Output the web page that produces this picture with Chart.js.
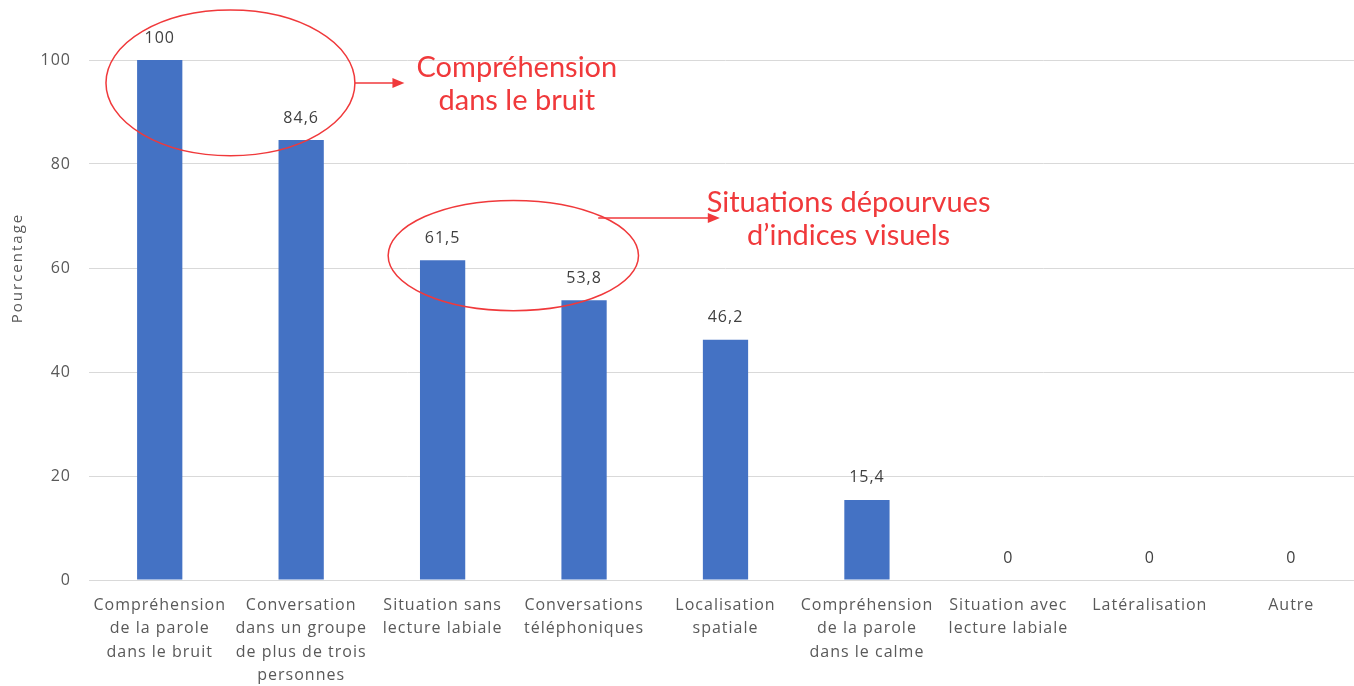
<!DOCTYPE html>
<html>
<head>
<meta charset="utf-8">
<title>Pourcentage</title>
<style>
  html, body { margin: 0; padding: 0; background: #fff; overflow: hidden; }
  #wrap { width: 1362px; height: 686px; }
</style>
</head>
<body>
<div id="wrap"><canvas id="chart"></canvas></div>
<script src="https://cdn.jsdelivr.net/npm/chart.js@4/dist/chart.umd.min.js"></script>
<script>
const categories = [
  ['Compréhension', 'de la parole', 'dans le bruit'],
  ['Conversation', 'dans un groupe', 'de plus de trois', 'personnes'],
  ['Situation sans', 'lecture labiale'],
  ['Conversations', 'téléphoniques'],
  ['Localisation', 'spatiale'],
  ['Compréhension', 'de la parole', 'dans le calme'],
  ['Situation avec', 'lecture labiale'],
  ['Latéralisation'],
  ['Autre']
];
const values = [100, 84.6, 61.5, 53.8, 46.2, 15.4, 0, 0, 0];
const yTicks = [0, 20, 40, 60, 80, 100];

// annotations: ellipse in data units (category index / value), arrow end and text centre
const notes = [
  { cx: 0.5, cy: 95.6, rx: 0.88, ry: 14, arrowY: 95.6, arrowStart: 1.38, arrowEnd: 1.73, lines: ['Compréhension', 'dans le bruit'], textX: 2.525, textY: 98.5 },
  { cx: 2.5, cy: 62.4, rx: 0.885, ry: 10.6, arrowY: 69.6, arrowStart: 3.1, arrowEnd: 3.96, lines: ['Situations dépourvues', 'd\u2019indices visuels'], textX: 4.87, textY: 72.5 }
];

const RED = '#f0393b';
const GREY = '#595959';

const spacingPlugin = {
  id: 'spacing',
  beforeDraw(chart) { chart.ctx.letterSpacing = '1px'; }
};

const labelsPlugin = {
  id: 'barValues',
  afterDatasetsDraw(chart) {
    const ctx = chart.ctx;
    const meta = chart.getDatasetMeta(0);
    ctx.save();
    ctx.letterSpacing = '1px';
    ctx.font = '16px "Open Sans"';
    ctx.fillStyle = '#404040';
    ctx.textAlign = 'center';
    ctx.textBaseline = 'bottom';
    meta.data.forEach((bar, i) => {
      ctx.fillText(String(values[i]).replace('.', ','), bar.x, bar.y - 14);
    });
    ctx.restore();
  }
};

const notesPlugin = {
  id: 'notes',
  afterDraw(chart) {
    const ctx = chart.ctx;
    const xs = chart.scales.x, ys = chart.scales.y;
    const step = xs.getPixelForValue(1) - xs.getPixelForValue(0);
    const unit = ys.getPixelForValue(0) - ys.getPixelForValue(1);
    const px = v => xs.getPixelForValue(0) + v * step;
    ctx.save();
    ctx.letterSpacing = '0px';
    ctx.strokeStyle = RED;
    ctx.fillStyle = RED;
    ctx.lineWidth = 1.5;
    notes.forEach(n => {
      ctx.beginPath();
      ctx.ellipse(px(n.cx), ys.getPixelForValue(n.cy), n.rx * step, n.ry * unit, 0, 0, Math.PI * 2);
      ctx.stroke();
      const ay = ys.getPixelForValue(n.arrowY);
      const ax = px(n.arrowStart), bx = px(n.arrowEnd);
      ctx.beginPath();
      ctx.moveTo(ax, ay);
      ctx.lineTo(bx - 8, ay);
      ctx.stroke();
      ctx.beginPath();
      ctx.moveTo(bx, ay);
      ctx.lineTo(bx - 12, ay - 5);
      ctx.lineTo(bx - 12, ay + 5);
      ctx.closePath();
      ctx.fill();
      ctx.font = '29px Lato';
      ctx.textAlign = 'center';
      ctx.textBaseline = 'middle';
      const ty = ys.getPixelForValue(n.textY);
      n.lines.forEach((t, j) => ctx.fillText(t, px(n.textX), ty + j * 33));
    });
    // axis title
    ctx.letterSpacing = '2px';
    ctx.font = '15px "Open Sans"';
    ctx.fillStyle = GREY;
    ctx.translate(18, ys.getPixelForValue(60));
    ctx.rotate(-Math.PI / 2);
    ctx.textAlign = 'center';
    ctx.textBaseline = 'middle';
    ctx.fillText('Pourcentage', 0, 0);
    ctx.restore();
  }
};

new Chart(document.getElementById('chart'), {
  type: 'bar',
  data: {
    labels: categories,
    datasets: [{
      data: values,
      backgroundColor: '#4472c4',
      barPercentage: 0.32,
      categoryPercentage: 1
    }]
  },
  options: {
    responsive: true,
    maintainAspectRatio: false,
    animation: false,
    layout: { padding: { top: 60, left: 0, right: 0, bottom: 0 } },
    plugins: { legend: { display: false }, tooltip: { enabled: false } },
    scales: {
      x: {
        grid: { display: false, drawTicks: false },
        border: { color: '#d9d9d9' },
        ticks: {
          color: GREY,
          font: { family: 'Open Sans', size: 16, lineHeight: 1.45 },
          padding: 14,
          maxRotation: 0,
          autoSkip: false
        },
        afterFit(s) { s.height = 106; }
      },
      y: {
        min: 0, max: 100,
        afterBuildTicks(s) { s.ticks = yTicks.map(v => ({ value: v })); },
        grid: { color: '#d9d9d9', drawTicks: false },
        border: { display: false },
        ticks: {
          color: GREY,
          font: { family: 'Open Sans', size: 16 },
          padding: 18
        },
        afterFit(s) { s.width = 89; }
      }
    }
  },
  plugins: [spacingPlugin, labelsPlugin, notesPlugin]
});
</script>
</body>
</html>
